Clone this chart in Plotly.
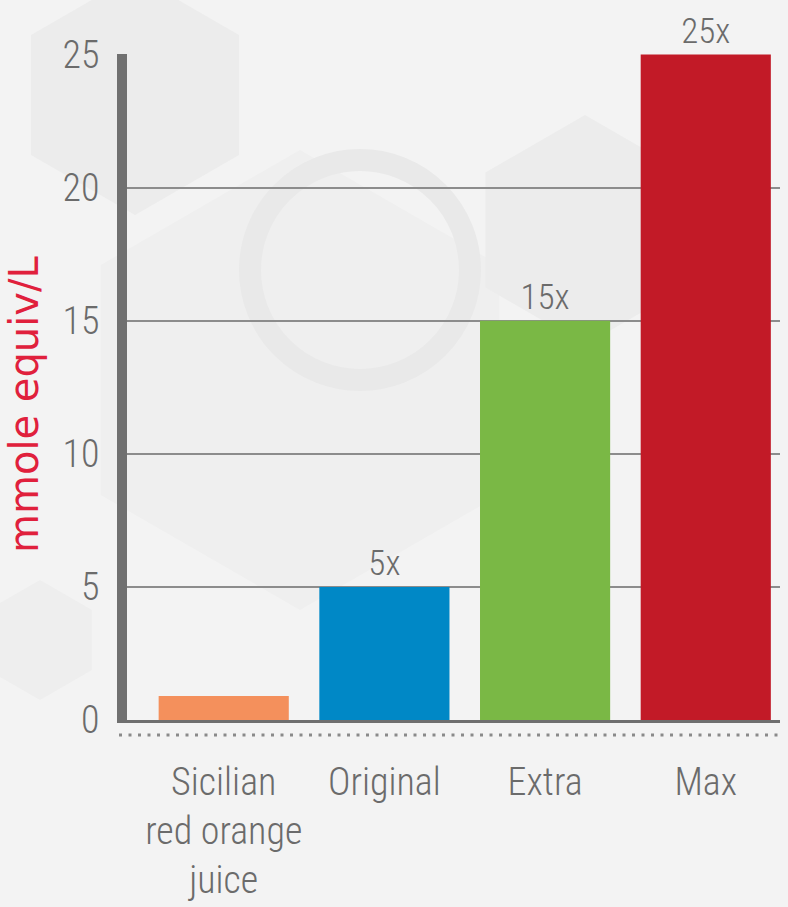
import math
import plotly.graph_objects as go

categories = ["Sicilian<br>red orange<br>juice", "Original", "Extra", "Max"]
values = [0.9, 5, 15, 25]
bar_labels = ["", "5x", "15x", "25x"]
bar_colors = ["#f4905c", "#0088c6", "#7ab845", "#c21a27"]
y_ticks = [0, 5, 10, 15, 20, 25]
y_title = "mmole equiv/L"

W, H = 788, 907
ML, MR, MT, MB = 127, 8, 54, 187
PW, PH = W - ML - MR, H - MT - MB
NARROW = "Roboto Condensed, Roboto, sans-serif"

def px(x):
    return (x - ML) / PW

def py(y):
    return 1 - (y - MT) / PH

def hexagon(cx, cy, r):
    pts = []
    for k in range(6):
        a = math.radians(60 * k + 30)
        pts.append((px(cx + r * math.cos(a)), py(cy + r * math.sin(a))))
    return "M " + " L ".join(f"{x:.4f},{y:.4f}" for x, y in pts) + " Z"

fig = go.Figure()
fig.add_trace(go.Bar(
    x=categories, y=values,
    marker=dict(color=bar_colors, line=dict(width=0)),
    width=0.81,
    text=bar_labels, textposition="outside",
    textfont=dict(family=NARROW, size=35, color="#6b6b6b", weight=300),
    cliponaxis=False,
    hoverinfo="skip",
))

shapes = []
bg = [(135, 95, 120, "#ececec"), (300, 380, 230, "#efefef"), (585, 230, 115, "#ececec"), (40, 640, 60, "#eeeeee")]
for cx, cy, r, c in bg:
    shapes.append(dict(type="path", path=hexagon(cx, cy, r), xref="paper", yref="paper",
                       fillcolor=c, line=dict(width=0), layer="below"))
shapes.append(dict(type="circle", xref="paper", yref="paper", x0=px(250), x1=px(470), y0=py(380), y1=py(160),
                   fillcolor="rgba(0,0,0,0)", line=dict(color="#e9e9e9", width=22), layer="below"))
shapes.append(dict(type="line", xref="paper", yref="paper", x0=px(119), x1=px(782), y0=py(735), y1=py(735),
                   line=dict(color="#8a8a8a", width=3, dash="3px,6.5px")))

fig.update_layout(
    width=W, height=H,
    margin=dict(l=ML, r=MR, t=MT, b=MB, autoexpand=False),
    paper_bgcolor="#f3f3f3", plot_bgcolor="rgba(0,0,0,0)",
    showlegend=False,
    shapes=shapes,
    annotations=[dict(text=y_title, xref="paper", yref="paper", x=px(24), y=py(405),
                      xanchor="center", yanchor="middle", textangle=-90, showarrow=False,
                      font=dict(family="DejaVu Sans, sans-serif", size=40, color="#e0203c"))],
)
fig.update_xaxes(
    range=[-0.602, 3.462], automargin=False,
    showgrid=False, zeroline=False,
    showline=True, linecolor="#6f6f6f", linewidth=3,
    ticks="outside", ticklen=26, tickcolor="rgba(0,0,0,0)",
    tickfont=dict(family=NARROW, size=38, color="#6b6b6b", weight=300),
)
fig.update_yaxes(
    range=[0, 25.02], tickvals=y_ticks, automargin=False,
    showgrid=True, gridcolor="#8c8c8c", gridwidth=2,
    zeroline=False,
    showline=True, linecolor="#707070", linewidth=10,
    ticks="outside", ticklen=10, tickcolor="rgba(0,0,0,0)",
    tickfont=dict(family=NARROW, size=38, color="#6b6b6b", weight=300),
)

fig.write_html(
    "out.html",
    config={"displayModeBar": False},
    post_script="document.body.style.margin='0';document.body.style.background='#f3f3f3';document.body.style.overflow='hidden';",
)
